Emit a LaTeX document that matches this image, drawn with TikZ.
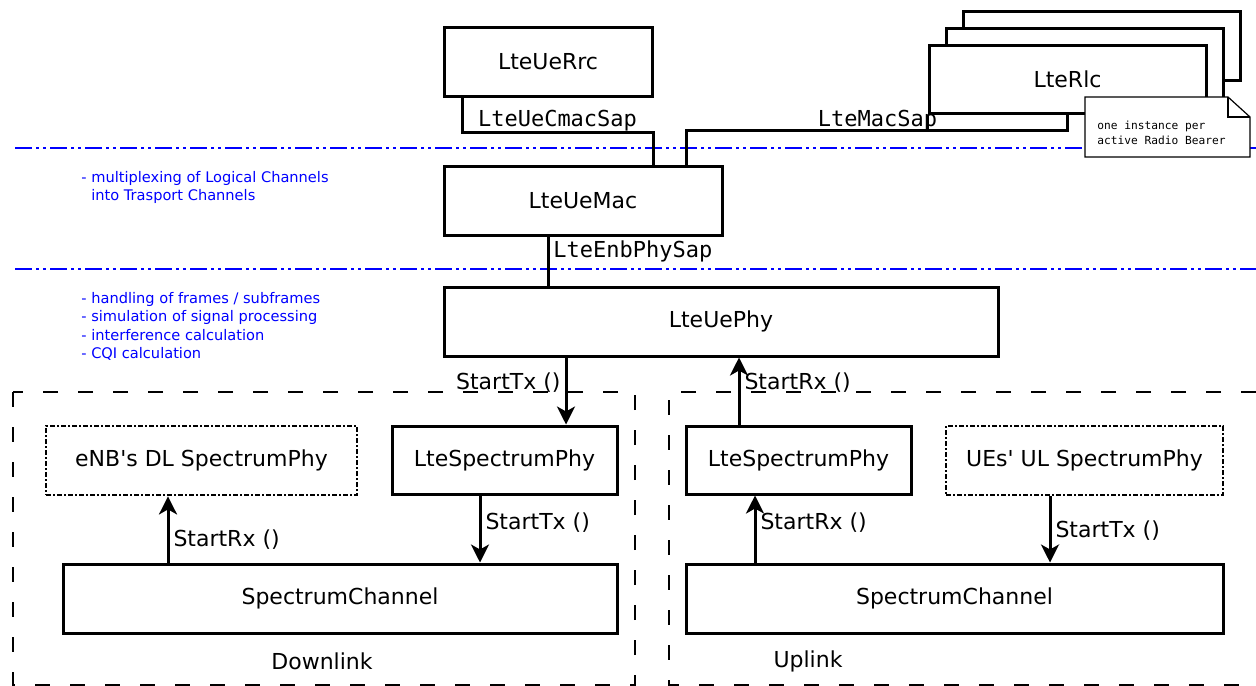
\documentclass[tikz,border=0pt]{standalone}
\usepackage{fontspec}
\setmainfont{DejaVu Sans}
\setmonofont{DejaVu Sans Mono}
\usetikzlibrary{arrows.meta}

\begin{document}
\begin{tikzpicture}[x=0.5pt,y=-0.5pt,line join=miter,>={Stealth[length=9pt,width=9pt,inset=2.5pt]},
    block/.style={draw,line width=1.5pt,fill=white,inner sep=0pt,font=\fontsize{11}{13}\selectfont},
    otherphy/.style={block,line width=1.4pt,dash pattern=on 2.5pt off 1pt on 1pt off 1pt},
    link/.style={line width=1.5pt},
    sap/.style={anchor=base,inner sep=0pt,font=\ttfamily\fontsize{11}{13}\selectfont},
    call/.style={font=\fontsize{11}{13}\selectfont,inner sep=2pt},
    layer/.style={blue,line width=0.8pt,dash pattern=on 8.5pt off 2pt on 1.5pt off 2pt on 1.5pt off 2pt},
    region/.style={line width=0.75pt,dash pattern=on 7.5pt off 10pt},
    task/.style={blue,anchor=west,align=left,inner sep=0pt,font=\fontsize{7.3}{9.2}\selectfont}]
    \useasboundingbox (0,0) rectangle (1256,685);

    % layer borders
    \draw[layer] (15,148) -- (1256,148);
    \draw[layer] (15,269) -- (1256,269);

    % downlink / uplink regions
    \draw[region] (13,392) rectangle (635,685);
    \draw[region] (1256,392) -- (669,392) -- (669,685) -- (1256,685);
    \node[call] (dl) at (322,661) {Downlink};
    \node[call] (ul) at (808,661) {Uplink};

    \node[task] (mactask) at (81,187.5) {- multiplexing of Logical Channels\\\phantom{- }into Trasport Channels};
    \node[task] (phytask) at (81,326.5) {- handling of frames / subframes\\- simulation of signal processing\\- interference calculation\\- CQI calculation};

    \coordinate (cmacT) at (462,132);
    \coordinate (macsapT) at (686,130);
    \coordinate (physap) at (548,235);

    \node[sap] (cmaclbl) at (557.5,126) {LteUeCmacSap};
    \node[sap] (maclbl) at (877.5,126) {LteMacSap};

    \node[block,minimum width=104pt,minimum height=34.5pt] (rrc) at (548,61.5) {LteUeRrc};
    \node[block,minimum width=138.5pt,minimum height=34.5pt] (rlc3) at (1101.5,45.5) {};
    \node[block,minimum width=138.5pt,minimum height=36pt] (rlc2) at (1084.5,64) {};
    \node[block,minimum width=138.5pt,minimum height=34pt] (rlc) at (1067.5,79) {LteRlc};
    \node[block,minimum width=139pt,minimum height=34.5pt] (mac) at (583,200.5) {LteUeMac};
    \node[block,minimum width=277pt,minimum height=34.5pt] (uephy) at (721,321.5) {LteUePhy};

    % SAPs
    \draw[link] (rrc.south -| cmacT) -- (cmacT) -- (cmacT -| rrc.east) -- (mac.north -| rrc.east);
    \draw[link] (mac.north -| macsapT) -- (macsapT) -- (rlc.south |- macsapT) -- (rlc.south);
    \draw[link] (rlc.south west) -- (rlc.south west |- macsapT);
    \draw[link] (mac.south -| physap) -- (uephy.north -| physap);
    \node[sap,anchor=base west] (physaplbl) at (553,257) {LteEnbPhySap};

    % note
    \draw[line width=0.6pt,fill=white] (1085,97) -- (1228,97) -- (1250,117) -- (1250,157) -- (1085,157) -- cycle;
    \draw[line width=0.6pt] (1228,97) -- (1228,117) -- (1250,117);
    \node[anchor=west,align=left,inner sep=0pt,font=\ttfamily\fontsize{5.6}{7.5}\selectfont] (notetxt) at (1097,132.5) {one instance per\\active Radio Bearer};

    % downlink
    \node[otherphy,minimum width=155.5pt,minimum height=34.5pt] (enbphy) at (201.5,460.5) {eNB\textquotesingle s DL SpectrumPhy};
    \node[block,minimum width=112.5pt,minimum height=34pt] (dlspec) at (504.5,460) {LteSpectrumPhy};
    \node[block,minimum width=277pt,minimum height=34.5pt] (dlchan) at (340,598.5) {SpectrumChannel};

    % uplink
    \node[block,minimum width=112.5pt,minimum height=34pt] (ulspec) at (798.5,460) {LteSpectrumPhy};
    \node[otherphy,minimum width=138.5pt,minimum height=34.5pt] (uesphy) at (1084.5,460.5) {UEs\textquotesingle{} UL SpectrumPhy};
    \node[block,minimum width=268.5pt,minimum height=34.5pt] (ulchan) at (954.5,598.5) {SpectrumChannel};

    \draw[->,link] (uephy.south -| 566,0) -- node[call,anchor=east,pos=0.37] {StartTx ()} (dlspec.north -| 566,0);
    \draw[->,link] (dlspec.south -| 480,0) -- node[call,anchor=west,pos=0.4] {StartTx ()} (dlchan.north -| 480,0);
    \draw[->,link] (dlchan.north -| 168,0) -- node[call,anchor=west,pos=0.35] {StartRx ()} (enbphy.south -| 168,0);
    \draw[->,link] (ulspec.north -| 739,0) -- node[call,anchor=west,pos=0.63] {StartRx ()} (uephy.south -| 739,0);
    \draw[->,link] (ulchan.north -| 755,0) -- node[call,anchor=west,pos=0.6] {StartRx ()} (ulspec.south -| 755,0);
    \draw[->,link] (uesphy.south -| 1050,0) -- node[call,anchor=west,pos=0.52] {StartTx ()} (ulchan.north -| 1050,0);
\end{tikzpicture}
\end{document}
